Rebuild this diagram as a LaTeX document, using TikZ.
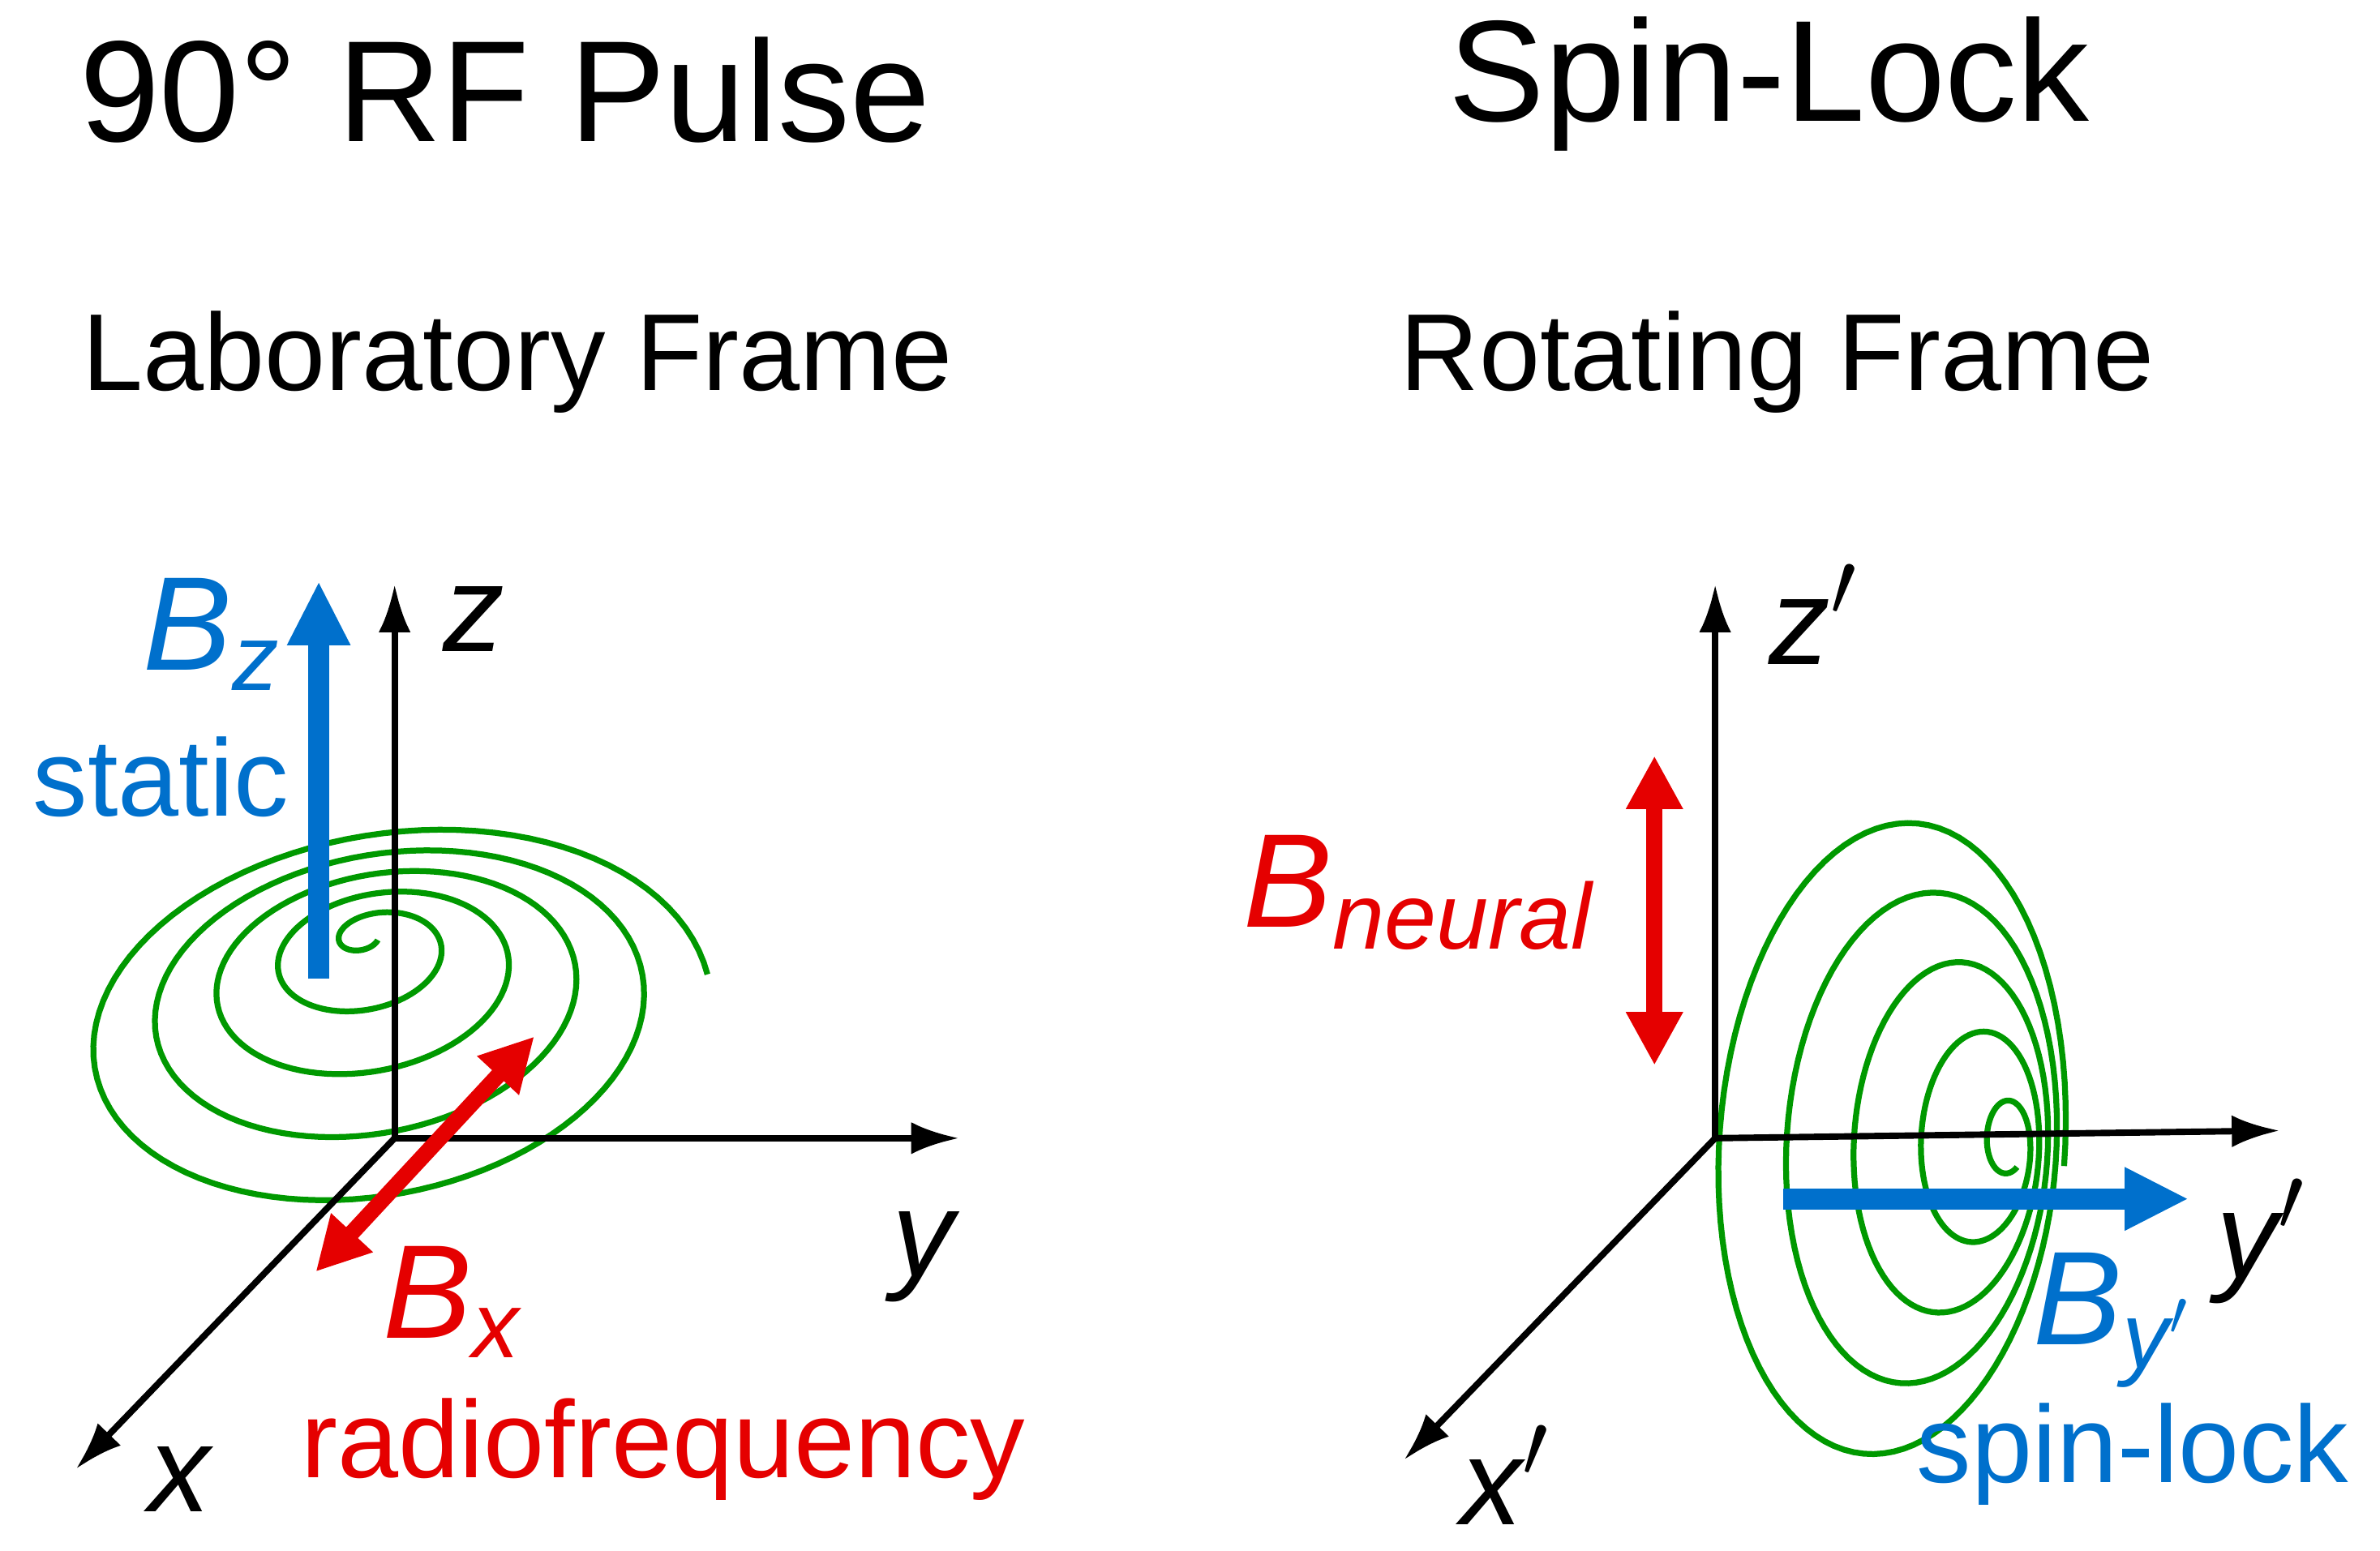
\documentclass[tikz,border=0pt]{standalone}
\usepackage{fontspec}
\setmainfont{Liberation Sans}
\usetikzlibrary{arrows.meta}
\colorlet{fieldblue}{blue!45!cyan!80!black}
\colorlet{fieldred}{red!90!black}
\colorlet{spincol}{green!60!black}
\tikzset{
  axis/.style={-{Latex[length=9pt,width=6pt]},line width=1.2pt,black},
  bfield/.style={-{Triangle[length=12pt,width=11pt]},line width=4pt,fieldblue},
  rfield/.style={{Triangle[length=10pt,width=10pt]}-{Triangle[length=10pt,width=10pt]},line width=3pt,fieldred},
  spiral/.style={spincol,line width=1.1pt},
  axlabel/.style={font=\fontsize{23}{26}\selectfont\itshape},
  blabel/.style={font=\fontsize{25}{28}\selectfont\itshape},
  small/.style={font=\fontsize{20.5}{24}\selectfont},
  title/.style={font=\fontsize{27}{32}\selectfont,anchor=base west},
  subtitle/.style={font=\fontsize{20.5}{24}\selectfont,anchor=base west}}
\begin{document}
\begin{tikzpicture}[x=0.01cm,y=-0.01cm]
  \useasboundingbox (0,0) rectangle (1568,1022);

  % TITLES
  \node[title] (tl) at (40,93) {90° RF Pulse};
  \node[title] (tr) at (942,80) {Spin-Lock};
  \node[subtitle] (sl) at (42,257) {Laboratory Frame};
  \node[subtitle] (sr) at (910,257) {Rotating Frame};

  % LAB FRAME
  \coordinate (O) at (260,750);
  \coordinate (Z) at (260,385);
  \coordinate (Y) at (632,750);
  \coordinate (X) at (50,968);
  \draw[spiral] plot[domain=0.04:1.0,samples=500,variable=\r]
    ({245+10*\r + 215*\r*cos(1800*\r)*cos(-10) - 135*\r*sin(1800*\r)*sin(-10)},
     {612+70*\r + 215*\r*cos(1800*\r)*sin(-10) + 135*\r*sin(1800*\r)*cos(-10)});
  \draw[axis] (O) -- (Z);
  \draw[axis] (O) -- (Y);
  \draw[axis] (O) -- (X);
  \node[axlabel] (zl) at (312,408) {z};
  \node[axlabel] (yl) at (608,828) {y};
  \node[axlabel] (xl) at (118,975) {x};
  \coordinate (bz0) at (210,645);
  \coordinate (bz1) at (210,383);
  \draw[bfield] (bz0) -- (bz1);
  \node[blabel,fieldblue] (bzl) at (140,418) {B\textsubscript{z}};
  \node[small,fieldblue] (stat) at (106,512) {static};
  \coordinate (bx0) at (208,838);
  \coordinate (bx1) at (352,683);
  \draw[rfield] (bx0) -- (bx1);
  \node[blabel,fieldred] (bxl) at (298,858) {B\textsubscript{x}};
  \node[small,fieldred] (rf) at (437,955) {radiofrequency};

  % ROTATING FRAME
  \coordinate (O2) at (1130,750);
  \coordinate (Z2) at (1130,385);
  \coordinate (Y2) at (1502,745);
  \coordinate (X2) at (925,962);
  \draw[spiral] plot[domain=0.04:1,samples=500,variable=\r]
    ({1332-97*\r + 125*\r*cos(1800*\r)*cos(5) - 232*\r*sin(1800*\r)*sin(5)},
     {760+2*\r + 125*\r*cos(1800*\r)*sin(5) + 232*\r*sin(1800*\r)*cos(5)});
  \draw[axis] (O2) -- (Z2);
  \draw[axis] (O2) -- (Y2);
  \draw[axis] (O2) -- (X2);
  \node[axlabel] (zl2) at (1195,405) {z$'$};
  \node[axlabel] (yl2) at (1490,818) {y$'$};
  \node[axlabel] (xl2) at (992,972) {x$'$};
  \coordinate (bn0) at (1090,498);
  \coordinate (bn1) at (1090,702);
  \draw[rfield] (bn0) -- (bn1);
  \node[blabel,fieldred] (bnl) at (935,588) {B\textsubscript{neural}};
  \coordinate (by0) at (1175,790);
  \coordinate (by1) at (1442,790);
  \draw[bfield] (by0) -- (by1);
  \node[blabel,fieldblue] (byl) at (1392,870) {B\textsubscript{y$'$}};
  \node[small,fieldblue] (sl2) at (1405,958) {spin-lock};
\end{tikzpicture}
\end{document}
